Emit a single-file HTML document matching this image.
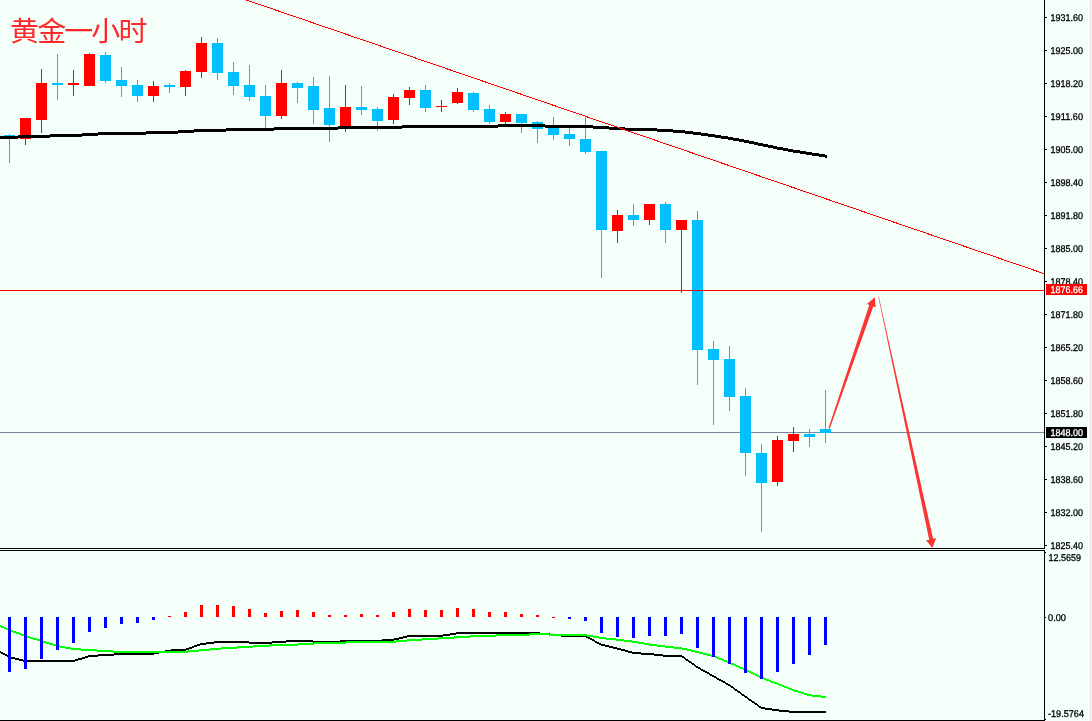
<!DOCTYPE html>
<html lang="zh"><head><meta charset="utf-8"><title>黄金一小时</title>
<style>html,body{margin:0;padding:0;background:#f5fffa;overflow:hidden}body{width:1092px;height:721px}</style></head>
<body>
<svg width="1092" height="721" viewBox="0 0 1092 721" style="display:block">
<rect width="1092" height="721" fill="#f5fffa"/>
<rect x="1090" y="0" width="1" height="721" fill="#e2e6e4"/><rect x="1091" y="0" width="1" height="721" fill="#f4f4f4"/>
<rect x="0" y="432" width="1045" height="1" fill="#778899"/>
<g shape-rendering="crispEdges">
<rect x="9" y="134" width="1" height="29" fill="#00bfff"/>
<rect x="4" y="135" width="11" height="1" fill="#00bfff"/>
<rect x="25" y="118" width="1" height="27" fill="#ff0000"/>
<rect x="20" y="118" width="11" height="21" fill="#ff0000"/>
<rect x="41" y="69" width="1" height="64" fill="#ff0000"/>
<rect x="36" y="83" width="11" height="37" fill="#ff0000"/>
<rect x="57" y="54" width="1" height="46" fill="#00bfff"/>
<rect x="52" y="83" width="11" height="2" fill="#00bfff"/>
<rect x="73" y="70" width="1" height="26" fill="#ff0000"/>
<rect x="68" y="83" width="11" height="2" fill="#ff0000"/>
<rect x="89" y="53" width="1" height="33" fill="#ff0000"/>
<rect x="84" y="54" width="11" height="32" fill="#ff0000"/>
<rect x="105" y="52" width="1" height="31" fill="#00bfff"/>
<rect x="100" y="55" width="11" height="26" fill="#00bfff"/>
<rect x="121" y="67" width="1" height="30" fill="#00bfff"/>
<rect x="116" y="80" width="11" height="6" fill="#00bfff"/>
<rect x="137" y="80" width="1" height="22" fill="#00bfff"/>
<rect x="132" y="85" width="11" height="11" fill="#00bfff"/>
<rect x="153" y="81" width="1" height="21" fill="#ff0000"/>
<rect x="148" y="86" width="11" height="10" fill="#ff0000"/>
<rect x="169" y="83" width="1" height="10" fill="#00bfff"/>
<rect x="164" y="85" width="11" height="2" fill="#00bfff"/>
<rect x="185" y="70" width="1" height="26" fill="#ff0000"/>
<rect x="180" y="71" width="11" height="16" fill="#ff0000"/>
<rect x="201" y="37" width="1" height="41" fill="#ff0000"/>
<rect x="196" y="43" width="11" height="29" fill="#ff0000"/>
<rect x="217" y="38" width="1" height="42" fill="#00bfff"/>
<rect x="212" y="43" width="11" height="30" fill="#00bfff"/>
<rect x="233" y="62" width="1" height="33" fill="#00bfff"/>
<rect x="228" y="72" width="11" height="14" fill="#00bfff"/>
<rect x="249" y="65" width="1" height="36" fill="#00bfff"/>
<rect x="244" y="85" width="11" height="12" fill="#00bfff"/>
<rect x="265" y="85" width="1" height="43" fill="#00bfff"/>
<rect x="260" y="96" width="11" height="20" fill="#00bfff"/>
<rect x="281" y="70" width="1" height="49" fill="#ff0000"/>
<rect x="276" y="83" width="11" height="33" fill="#ff0000"/>
<rect x="297" y="82" width="1" height="21" fill="#00bfff"/>
<rect x="292" y="83" width="11" height="5" fill="#00bfff"/>
<rect x="313" y="77" width="1" height="47" fill="#00bfff"/>
<rect x="308" y="86" width="11" height="24" fill="#00bfff"/>
<rect x="329" y="76" width="1" height="66" fill="#00bfff"/>
<rect x="324" y="108" width="11" height="17" fill="#00bfff"/>
<rect x="345" y="85" width="1" height="47" fill="#ff0000"/>
<rect x="340" y="107" width="11" height="20" fill="#ff0000"/>
<rect x="361" y="86" width="1" height="29" fill="#00bfff"/>
<rect x="356" y="107" width="11" height="3" fill="#00bfff"/>
<rect x="377" y="107" width="1" height="24" fill="#00bfff"/>
<rect x="372" y="109" width="11" height="12" fill="#00bfff"/>
<rect x="393" y="94" width="1" height="30" fill="#ff0000"/>
<rect x="388" y="97" width="11" height="23" fill="#ff0000"/>
<rect x="409" y="87" width="1" height="18" fill="#ff0000"/>
<rect x="404" y="90" width="11" height="8" fill="#ff0000"/>
<rect x="425" y="85" width="1" height="27" fill="#00bfff"/>
<rect x="420" y="90" width="11" height="18" fill="#00bfff"/>
<rect x="441" y="100" width="1" height="12" fill="#ff0000"/>
<rect x="436" y="106" width="11" height="1" fill="#ff0000"/>
<rect x="457" y="88" width="1" height="16" fill="#ff0000"/>
<rect x="452" y="92" width="11" height="11" fill="#ff0000"/>
<rect x="473" y="92" width="1" height="20" fill="#00bfff"/>
<rect x="468" y="93" width="11" height="17" fill="#00bfff"/>
<rect x="489" y="105" width="1" height="19" fill="#00bfff"/>
<rect x="484" y="109" width="11" height="13" fill="#00bfff"/>
<rect x="505" y="112" width="1" height="13" fill="#ff0000"/>
<rect x="500" y="114" width="11" height="8" fill="#ff0000"/>
<rect x="521" y="114" width="1" height="19" fill="#00bfff"/>
<rect x="516" y="114" width="11" height="9" fill="#00bfff"/>
<rect x="537" y="121" width="1" height="22" fill="#00bfff"/>
<rect x="532" y="122" width="11" height="7" fill="#00bfff"/>
<rect x="553" y="117" width="1" height="23" fill="#00bfff"/>
<rect x="548" y="125" width="11" height="10" fill="#00bfff"/>
<rect x="569" y="127" width="1" height="19" fill="#00bfff"/>
<rect x="564" y="134" width="11" height="5" fill="#00bfff"/>
<rect x="585" y="117" width="1" height="37" fill="#00bfff"/>
<rect x="580" y="139" width="11" height="13" fill="#00bfff"/>
<rect x="601" y="151" width="1" height="127" fill="#00bfff"/>
<rect x="596" y="151" width="11" height="79" fill="#00bfff"/>
<rect x="617" y="210" width="1" height="33" fill="#ff0000"/>
<rect x="612" y="215" width="11" height="16" fill="#ff0000"/>
<rect x="633" y="204" width="1" height="22" fill="#00bfff"/>
<rect x="628" y="215" width="11" height="5" fill="#00bfff"/>
<rect x="649" y="204" width="1" height="21" fill="#ff0000"/>
<rect x="644" y="204" width="11" height="16" fill="#ff0000"/>
<rect x="665" y="202" width="1" height="41" fill="#00bfff"/>
<rect x="660" y="204" width="11" height="26" fill="#00bfff"/>
<rect x="681" y="220" width="1" height="73" fill="#ff0000"/>
<rect x="676" y="220" width="11" height="10" fill="#ff0000"/>
<rect x="697" y="211" width="1" height="174" fill="#00bfff"/>
<rect x="692" y="220" width="11" height="130" fill="#00bfff"/>
<rect x="713" y="341" width="1" height="84" fill="#00bfff"/>
<rect x="708" y="349" width="11" height="11" fill="#00bfff"/>
<rect x="729" y="346" width="1" height="65" fill="#00bfff"/>
<rect x="724" y="359" width="11" height="38" fill="#00bfff"/>
<rect x="745" y="388" width="1" height="88" fill="#00bfff"/>
<rect x="740" y="396" width="11" height="57" fill="#00bfff"/>
<rect x="761" y="444" width="1" height="88" fill="#00bfff"/>
<rect x="756" y="453" width="11" height="30" fill="#00bfff"/>
<rect x="777" y="436" width="1" height="50" fill="#ff0000"/>
<rect x="772" y="440" width="11" height="42" fill="#ff0000"/>
<rect x="793" y="427" width="1" height="25" fill="#ff0000"/>
<rect x="788" y="434" width="11" height="7" fill="#ff0000"/>
<rect x="809" y="429" width="1" height="18" fill="#00bfff"/>
<rect x="804" y="434" width="11" height="3" fill="#00bfff"/>
<rect x="825" y="390" width="1" height="53" fill="#00bfff"/>
<rect x="820" y="429" width="11" height="4" fill="#00bfff"/>
</g>
<g fill="#000" shape-rendering="crispEdges"><rect x="0" y="136" width="18" height="3"/><rect x="18" y="135" width="32" height="3"/><rect x="50" y="134" width="32" height="3"/><rect x="82" y="133" width="16" height="3"/><rect x="98" y="132" width="48" height="3"/><rect x="146" y="131" width="32" height="3"/><rect x="178" y="130" width="16" height="3"/><rect x="194" y="129" width="32" height="3"/><rect x="226" y="128" width="48" height="3"/><rect x="274" y="127" width="64" height="3"/><rect x="338" y="126" width="64" height="3"/><rect x="402" y="125" width="96" height="3"/><rect x="498" y="124" width="47" height="3"/><rect x="545" y="125" width="48" height="3"/><rect x="593" y="126" width="16" height="3"/><rect x="609" y="127" width="16" height="3"/><rect x="625" y="128" width="32" height="3"/><rect x="657" y="129" width="16" height="3"/><rect x="673" y="130" width="12" height="3"/><rect x="685" y="131" width="8" height="3"/><rect x="693" y="132" width="8" height="3"/><rect x="701" y="133" width="7" height="3"/><rect x="708" y="134" width="7" height="3"/><rect x="715" y="135" width="6" height="3"/><rect x="721" y="136" width="7" height="3"/><rect x="728" y="137" width="5" height="3"/><rect x="733" y="138" width="6" height="3"/><rect x="739" y="139" width="5" height="3"/><rect x="744" y="140" width="5" height="3"/><rect x="749" y="141" width="5" height="3"/><rect x="754" y="142" width="4" height="3"/><rect x="758" y="143" width="5" height="3"/><rect x="763" y="144" width="5" height="3"/><rect x="768" y="145" width="5" height="3"/><rect x="773" y="146" width="4" height="3"/><rect x="777" y="147" width="6" height="3"/><rect x="783" y="148" width="5" height="3"/><rect x="788" y="149" width="5" height="3"/><rect x="793" y="150" width="7" height="3"/><rect x="800" y="151" width="6" height="3"/><rect x="806" y="152" width="6" height="3"/><rect x="812" y="153" width="7" height="3"/><rect x="819" y="154" width="6" height="3"/><rect x="825" y="155" width="2" height="3"/></g>
<line x1="246.4" y1="0" x2="1044" y2="273.6" stroke="#ff0000" stroke-width="1" shape-rendering="crispEdges"/>
<rect x="0" y="290" width="1045" height="1" fill="#ff0000"/>
<polygon points="828.4,428.3 869.3,305.0 866.9,304.1 874.8,297.3 875.7,307.3 873.3,306.4 829.7,428.7" fill="#fb3434"/>
<polygon points="878.26,296.55 878.74,296.45 933.1,538.75 936.2,538.1 932.4,548 926.1,540.3 929.2,539.65" fill="#fb3434"/>
<g shape-rendering="crispEdges" fill="#000">
<rect x="0" y="548" width="1045" height="1"/>
<rect x="0" y="550" width="1045" height="1"/>
<rect x="1044" y="0" width="1" height="549"/>
<rect x="1044" y="550" width="1" height="171"/>
<rect x="0" y="720" width="1045" height="1"/>
<rect x="1045" y="17" width="2" height="1"/>
<rect x="1045" y="50" width="2" height="1"/>
<rect x="1045" y="83" width="2" height="1"/>
<rect x="1045" y="116" width="2" height="1"/>
<rect x="1045" y="149" width="2" height="1"/>
<rect x="1045" y="182" width="2" height="1"/>
<rect x="1045" y="215" width="2" height="1"/>
<rect x="1045" y="248" width="2" height="1"/>
<rect x="1045" y="281" width="2" height="1"/>
<rect x="1045" y="314" width="2" height="1"/>
<rect x="1045" y="347" width="2" height="1"/>
<rect x="1045" y="380" width="2" height="1"/>
<rect x="1045" y="413" width="2" height="1"/>
<rect x="1045" y="446" width="2" height="1"/>
<rect x="1045" y="479" width="2" height="1"/>
<rect x="1045" y="512" width="2" height="1"/>
<rect x="1045" y="545" width="2" height="1"/>
<rect x="1045" y="552" width="1" height="1"/>
<rect x="1045" y="617" width="1" height="1"/>
<rect x="1045" y="719" width="1" height="1"/>
</g>
<g fill="#000" shape-rendering="crispEdges"><rect x="0" y="651" width="1" height="2"/><rect x="1" y="652" width="2" height="2"/><rect x="3" y="653" width="2" height="2"/><rect x="5" y="654" width="2" height="2"/><rect x="7" y="655" width="2" height="2"/><rect x="9" y="656" width="2" height="2"/><rect x="11" y="657" width="4" height="2"/><rect x="15" y="658" width="4" height="2"/><rect x="19" y="659" width="4" height="2"/><rect x="23" y="660" width="52" height="2"/><rect x="75" y="659" width="3" height="2"/><rect x="78" y="658" width="4" height="2"/><rect x="82" y="657" width="3" height="2"/><rect x="85" y="656" width="3" height="2"/><rect x="88" y="655" width="10" height="2"/><rect x="98" y="654" width="16" height="2"/><rect x="114" y="653" width="40" height="2"/><rect x="154" y="652" width="5" height="2"/><rect x="159" y="651" width="6" height="2"/><rect x="165" y="650" width="6" height="2"/><rect x="171" y="649" width="15" height="2"/><rect x="186" y="648" width="3" height="2"/><rect x="189" y="647" width="3" height="2"/><rect x="192" y="646" width="2" height="2"/><rect x="194" y="645" width="3" height="2"/><rect x="197" y="644" width="3" height="2"/><rect x="200" y="643" width="6" height="2"/><rect x="206" y="642" width="8" height="2"/><rect x="214" y="641" width="35" height="2"/><rect x="249" y="642" width="23" height="2"/><rect x="272" y="641" width="14" height="2"/><rect x="286" y="640" width="27" height="2"/><rect x="313" y="641" width="27" height="2"/><rect x="340" y="640" width="42" height="2"/><rect x="382" y="639" width="12" height="2"/><rect x="394" y="638" width="5" height="2"/><rect x="399" y="637" width="4" height="2"/><rect x="403" y="636" width="4" height="2"/><rect x="407" y="635" width="36" height="2"/><rect x="443" y="634" width="7" height="2"/><rect x="450" y="633" width="6" height="2"/><rect x="456" y="632" width="84" height="2"/><rect x="540" y="633" width="10" height="2"/><rect x="550" y="634" width="11" height="2"/><rect x="561" y="635" width="25" height="2"/><rect x="586" y="636" width="2" height="2"/><rect x="588" y="637" width="2" height="2"/><rect x="590" y="638" width="2" height="2"/><rect x="592" y="639" width="2" height="2"/><rect x="594" y="640" width="1" height="2"/><rect x="595" y="641" width="2" height="2"/><rect x="597" y="642" width="2" height="2"/><rect x="599" y="643" width="2" height="2"/><rect x="601" y="644" width="4" height="2"/><rect x="605" y="645" width="4" height="2"/><rect x="609" y="646" width="4" height="2"/><rect x="613" y="647" width="4" height="2"/><rect x="617" y="648" width="4" height="2"/><rect x="621" y="649" width="4" height="2"/><rect x="625" y="650" width="3" height="2"/><rect x="628" y="651" width="4" height="2"/><rect x="632" y="652" width="9" height="2"/><rect x="641" y="653" width="13" height="2"/><rect x="654" y="654" width="9" height="2"/><rect x="663" y="655" width="19" height="2"/><rect x="682" y="656" width="2" height="2"/><rect x="684" y="657" width="1" height="2"/><rect x="685" y="658" width="1" height="2"/><rect x="686" y="659" width="2" height="2"/><rect x="688" y="660" width="1" height="2"/><rect x="689" y="661" width="2" height="2"/><rect x="691" y="662" width="1" height="2"/><rect x="692" y="663" width="2" height="2"/><rect x="694" y="664" width="1" height="2"/><rect x="695" y="665" width="1" height="2"/><rect x="696" y="666" width="2" height="2"/><rect x="698" y="667" width="2" height="2"/><rect x="700" y="668" width="1" height="2"/><rect x="701" y="669" width="2" height="2"/><rect x="703" y="670" width="2" height="2"/><rect x="705" y="671" width="2" height="2"/><rect x="707" y="672" width="2" height="2"/><rect x="709" y="673" width="1" height="2"/><rect x="710" y="674" width="2" height="2"/><rect x="712" y="675" width="2" height="2"/><rect x="714" y="676" width="2" height="2"/><rect x="716" y="677" width="1" height="2"/><rect x="717" y="678" width="2" height="2"/><rect x="719" y="679" width="2" height="2"/><rect x="721" y="680" width="2" height="2"/><rect x="723" y="681" width="2" height="2"/><rect x="725" y="682" width="1" height="2"/><rect x="726" y="683" width="2" height="2"/><rect x="728" y="684" width="2" height="2"/><rect x="730" y="685" width="1" height="2"/><rect x="731" y="686" width="2" height="2"/><rect x="733" y="687" width="1" height="2"/><rect x="734" y="688" width="1" height="2"/><rect x="735" y="689" width="2" height="2"/><rect x="737" y="690" width="1" height="2"/><rect x="738" y="691" width="2" height="2"/><rect x="740" y="692" width="1" height="2"/><rect x="741" y="693" width="1" height="2"/><rect x="742" y="694" width="2" height="2"/><rect x="744" y="695" width="1" height="2"/><rect x="745" y="696" width="2" height="2"/><rect x="747" y="697" width="1" height="2"/><rect x="748" y="698" width="1" height="2"/><rect x="749" y="699" width="2" height="2"/><rect x="751" y="700" width="1" height="2"/><rect x="752" y="701" width="2" height="2"/><rect x="754" y="702" width="1" height="2"/><rect x="755" y="703" width="2" height="2"/><rect x="757" y="704" width="1" height="2"/><rect x="758" y="705" width="1" height="2"/><rect x="759" y="706" width="2" height="2"/><rect x="761" y="707" width="4" height="2"/><rect x="765" y="708" width="7" height="2"/><rect x="772" y="709" width="7" height="2"/><rect x="779" y="710" width="10" height="2"/><rect x="789" y="711" width="37" height="2"/></g>
<g fill="#00ff00" shape-rendering="crispEdges"><rect x="0" y="625" width="1" height="2"/><rect x="1" y="626" width="3" height="2"/><rect x="4" y="627" width="2" height="2"/><rect x="6" y="628" width="2" height="2"/><rect x="8" y="629" width="3" height="2"/><rect x="11" y="630" width="2" height="2"/><rect x="13" y="631" width="3" height="2"/><rect x="16" y="632" width="3" height="2"/><rect x="19" y="633" width="2" height="2"/><rect x="21" y="634" width="3" height="2"/><rect x="24" y="635" width="3" height="2"/><rect x="27" y="636" width="3" height="2"/><rect x="30" y="637" width="3" height="2"/><rect x="33" y="638" width="4" height="2"/><rect x="37" y="639" width="3" height="2"/><rect x="40" y="640" width="3" height="2"/><rect x="43" y="641" width="3" height="2"/><rect x="46" y="642" width="3" height="2"/><rect x="49" y="643" width="4" height="2"/><rect x="53" y="644" width="3" height="2"/><rect x="56" y="645" width="4" height="2"/><rect x="60" y="646" width="5" height="2"/><rect x="65" y="647" width="6" height="2"/><rect x="71" y="648" width="10" height="2"/><rect x="81" y="649" width="16" height="2"/><rect x="97" y="650" width="16" height="2"/><rect x="113" y="651" width="75" height="2"/><rect x="188" y="650" width="11" height="2"/><rect x="199" y="649" width="11" height="2"/><rect x="210" y="648" width="11" height="2"/><rect x="221" y="647" width="16" height="2"/><rect x="237" y="646" width="16" height="2"/><rect x="253" y="645" width="16" height="2"/><rect x="269" y="644" width="29" height="2"/><rect x="298" y="643" width="16" height="2"/><rect x="314" y="642" width="32" height="2"/><rect x="346" y="641" width="50" height="2"/><rect x="396" y="640" width="11" height="2"/><rect x="407" y="639" width="15" height="2"/><rect x="422" y="638" width="16" height="2"/><rect x="438" y="637" width="16" height="2"/><rect x="454" y="636" width="16" height="2"/><rect x="470" y="635" width="26" height="2"/><rect x="496" y="634" width="34" height="2"/><rect x="530" y="633" width="19" height="2"/><rect x="549" y="634" width="38" height="2"/><rect x="587" y="635" width="6" height="2"/><rect x="593" y="636" width="6" height="2"/><rect x="599" y="637" width="7" height="2"/><rect x="606" y="638" width="10" height="2"/><rect x="616" y="639" width="8" height="2"/><rect x="624" y="640" width="8" height="2"/><rect x="632" y="641" width="6" height="2"/><rect x="638" y="642" width="6" height="2"/><rect x="644" y="643" width="5" height="2"/><rect x="649" y="644" width="8" height="2"/><rect x="657" y="645" width="8" height="2"/><rect x="665" y="646" width="9" height="2"/><rect x="674" y="647" width="8" height="2"/><rect x="682" y="648" width="5" height="2"/><rect x="687" y="649" width="4" height="2"/><rect x="691" y="650" width="4" height="2"/><rect x="695" y="651" width="4" height="2"/><rect x="699" y="652" width="4" height="2"/><rect x="703" y="653" width="4" height="2"/><rect x="707" y="654" width="4" height="2"/><rect x="711" y="655" width="4" height="2"/><rect x="715" y="656" width="2" height="2"/><rect x="717" y="657" width="2" height="2"/><rect x="719" y="658" width="3" height="2"/><rect x="722" y="659" width="2" height="2"/><rect x="724" y="660" width="3" height="2"/><rect x="727" y="661" width="2" height="2"/><rect x="729" y="662" width="2" height="2"/><rect x="731" y="663" width="3" height="2"/><rect x="734" y="664" width="2" height="2"/><rect x="736" y="665" width="2" height="2"/><rect x="738" y="666" width="2" height="2"/><rect x="740" y="667" width="3" height="2"/><rect x="743" y="668" width="2" height="2"/><rect x="745" y="669" width="2" height="2"/><rect x="747" y="670" width="2" height="2"/><rect x="749" y="671" width="2" height="2"/><rect x="751" y="672" width="2" height="2"/><rect x="753" y="673" width="2" height="2"/><rect x="755" y="674" width="2" height="2"/><rect x="757" y="675" width="2" height="2"/><rect x="759" y="676" width="2" height="2"/><rect x="761" y="677" width="3" height="2"/><rect x="764" y="678" width="2" height="2"/><rect x="766" y="679" width="3" height="2"/><rect x="769" y="680" width="2" height="2"/><rect x="771" y="681" width="3" height="2"/><rect x="774" y="682" width="3" height="2"/><rect x="777" y="683" width="2" height="2"/><rect x="779" y="684" width="3" height="2"/><rect x="782" y="685" width="2" height="2"/><rect x="784" y="686" width="3" height="2"/><rect x="787" y="687" width="2" height="2"/><rect x="789" y="688" width="3" height="2"/><rect x="792" y="689" width="2" height="2"/><rect x="794" y="690" width="4" height="2"/><rect x="798" y="691" width="3" height="2"/><rect x="801" y="692" width="3" height="2"/><rect x="804" y="693" width="3" height="2"/><rect x="807" y="694" width="5" height="2"/><rect x="812" y="695" width="9" height="2"/><rect x="821" y="696" width="5" height="2"/></g>
<g shape-rendering="crispEdges">
<rect x="8" y="617" width="3" height="55" fill="#0000ff"/>
<rect x="24" y="617" width="3" height="52" fill="#0000ff"/>
<rect x="40" y="617" width="3" height="42" fill="#0000ff"/>
<rect x="56" y="617" width="3" height="33" fill="#0000ff"/>
<rect x="72" y="617" width="3" height="26" fill="#0000ff"/>
<rect x="88" y="617" width="3" height="15" fill="#0000ff"/>
<rect x="104" y="617" width="3" height="11" fill="#0000ff"/>
<rect x="120" y="617" width="3" height="7" fill="#0000ff"/>
<rect x="136" y="617" width="3" height="6" fill="#0000ff"/>
<rect x="152" y="617" width="3" height="3" fill="#0000ff"/>
<rect x="168" y="616" width="3" height="1" fill="#ff0000"/>
<rect x="184" y="612" width="3" height="5" fill="#ff0000"/>
<rect x="200" y="605" width="3" height="12" fill="#ff0000"/>
<rect x="216" y="605" width="3" height="12" fill="#ff0000"/>
<rect x="232" y="606" width="3" height="11" fill="#ff0000"/>
<rect x="248" y="609" width="3" height="8" fill="#ff0000"/>
<rect x="264" y="613" width="3" height="4" fill="#ff0000"/>
<rect x="280" y="611" width="3" height="6" fill="#ff0000"/>
<rect x="296" y="610" width="3" height="7" fill="#ff0000"/>
<rect x="312" y="612" width="3" height="5" fill="#ff0000"/>
<rect x="328" y="615" width="3" height="2" fill="#ff0000"/>
<rect x="344" y="615" width="3" height="2" fill="#ff0000"/>
<rect x="360" y="614" width="3" height="3" fill="#ff0000"/>
<rect x="376" y="615" width="3" height="2" fill="#ff0000"/>
<rect x="392" y="612" width="3" height="5" fill="#ff0000"/>
<rect x="408" y="609" width="3" height="8" fill="#ff0000"/>
<rect x="424" y="610" width="3" height="7" fill="#ff0000"/>
<rect x="440" y="610" width="3" height="7" fill="#ff0000"/>
<rect x="456" y="608" width="3" height="9" fill="#ff0000"/>
<rect x="472" y="609" width="3" height="8" fill="#ff0000"/>
<rect x="488" y="612" width="3" height="5" fill="#ff0000"/>
<rect x="504" y="612" width="3" height="5" fill="#ff0000"/>
<rect x="520" y="614" width="3" height="3" fill="#ff0000"/>
<rect x="536" y="615" width="3" height="2" fill="#ff0000"/>
<rect x="552" y="617" width="3" height="1" fill="#ff0000"/>
<rect x="568" y="617" width="3" height="2" fill="#0000ff"/>
<rect x="584" y="617" width="3" height="4" fill="#0000ff"/>
<rect x="600" y="617" width="3" height="16" fill="#0000ff"/>
<rect x="616" y="617" width="3" height="20" fill="#0000ff"/>
<rect x="632" y="617" width="3" height="21" fill="#0000ff"/>
<rect x="648" y="617" width="3" height="19" fill="#0000ff"/>
<rect x="664" y="617" width="3" height="19" fill="#0000ff"/>
<rect x="680" y="617" width="3" height="17" fill="#0000ff"/>
<rect x="696" y="617" width="3" height="31" fill="#0000ff"/>
<rect x="712" y="617" width="3" height="40" fill="#0000ff"/>
<rect x="728" y="617" width="3" height="47" fill="#0000ff"/>
<rect x="744" y="617" width="3" height="56" fill="#0000ff"/>
<rect x="760" y="617" width="3" height="62" fill="#0000ff"/>
<rect x="776" y="617" width="3" height="55" fill="#0000ff"/>
<rect x="792" y="617" width="3" height="47" fill="#0000ff"/>
<rect x="808" y="617" width="3" height="38" fill="#0000ff"/>
<rect x="824" y="617" width="3" height="28" fill="#0000ff"/>
</g>
<g font-family="'Liberation Sans', sans-serif" font-size="9.8" text-rendering="geometricPrecision" fill="#000" stroke="#000" stroke-width="0.3">
<text x="1050.5" y="20.6" textLength="32.5" lengthAdjust="spacingAndGlyphs">1931.60</text>
<text x="1050.5" y="53.6" textLength="32.5" lengthAdjust="spacingAndGlyphs">1925.00</text>
<text x="1050.5" y="86.6" textLength="32.5" lengthAdjust="spacingAndGlyphs">1918.20</text>
<text x="1050.5" y="119.6" textLength="32.5" lengthAdjust="spacingAndGlyphs">1911.60</text>
<text x="1050.5" y="152.6" textLength="32.5" lengthAdjust="spacingAndGlyphs">1905.00</text>
<text x="1050.5" y="185.6" textLength="32.5" lengthAdjust="spacingAndGlyphs">1898.40</text>
<text x="1050.5" y="218.6" textLength="32.5" lengthAdjust="spacingAndGlyphs">1891.80</text>
<text x="1050.5" y="251.6" textLength="32.5" lengthAdjust="spacingAndGlyphs">1885.00</text>
<text x="1050.5" y="284.6" textLength="32.5" lengthAdjust="spacingAndGlyphs">1878.40</text>
<text x="1050.5" y="317.6" textLength="32.5" lengthAdjust="spacingAndGlyphs">1871.80</text>
<text x="1050.5" y="350.6" textLength="32.5" lengthAdjust="spacingAndGlyphs">1865.20</text>
<text x="1050.5" y="383.6" textLength="32.5" lengthAdjust="spacingAndGlyphs">1858.60</text>
<text x="1050.5" y="416.6" textLength="32.5" lengthAdjust="spacingAndGlyphs">1851.80</text>
<text x="1050.5" y="449.6" textLength="32.5" lengthAdjust="spacingAndGlyphs">1845.20</text>
<text x="1050.5" y="482.6" textLength="32.5" lengthAdjust="spacingAndGlyphs">1838.60</text>
<text x="1050.5" y="515.6" textLength="32.5" lengthAdjust="spacingAndGlyphs">1832.00</text>
<text x="1050.5" y="548.6" textLength="32.5" lengthAdjust="spacingAndGlyphs">1825.40</text>
<text x="1048.5" y="561.3" textLength="32.5" lengthAdjust="spacingAndGlyphs">12.5659</text>
<text x="1048" y="620.8" textLength="18" lengthAdjust="spacingAndGlyphs">0.00</text>
<text x="1048" y="717.3" textLength="36" lengthAdjust="spacingAndGlyphs">-19.5764</text>
</g>
<rect x="1046" y="284" width="41" height="11" fill="#ff0000" shape-rendering="crispEdges"/>
<rect x="1046" y="427" width="41" height="11" fill="#000" shape-rendering="crispEdges"/>
<g font-family="'Liberation Sans', sans-serif" font-size="9.8" text-rendering="geometricPrecision" fill="#fff" stroke="#fff" stroke-width="0.3">
<text x="1050.5" y="292.7" textLength="32.5" lengthAdjust="spacingAndGlyphs">1876.66</text>
<text x="1050.5" y="435.7" textLength="32.5" lengthAdjust="spacingAndGlyphs">1848.00</text>
</g>
<text transform="translate(10.1,41.4) scale(1.05,1)" letter-spacing="-1.8" font-family="'Liberation Sans', 'Noto Sans CJK SC', sans-serif" font-size="27.6" font-weight="400" fill="#fb2a2a">黄金一小时</text>
</svg>
</body></html>
